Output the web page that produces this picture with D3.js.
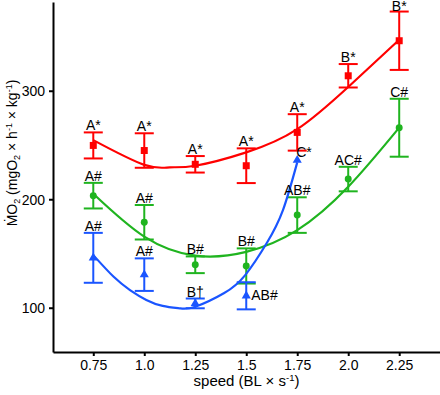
<!DOCTYPE html>
<html><head><meta charset="utf-8">
<script src="https://cdn.jsdelivr.net/npm/d3@7"></script>
<style>body{margin:0;background:#fff} svg{display:block} text{font-family:"Liberation Sans",Arial,Helvetica,sans-serif}</style>
</head><body><svg id="c" width="440" height="395"></svg>
<script>
// ---- data ----
const speeds = [0.75, 1.0, 1.25, 1.5, 1.75, 2.0, 2.25];
const xTicks = [0.75, 1.0, 1.25, 1.5, 1.75, 2.0, 2.25];
const xTickLabels = ["0.75", "1.0", "1.25", "1.5", "1.75", "2.0", "2.25"];
const yTicks = [100, 200, 300];

const redMean = [249.6, 244.9, 232.2, 230.9, 261.6, 313.8, 346.1];
const redErr = [12, 15.9, 7.6, 16, 16.8, 10.8, 26.9];
const redLabels = ["A*", "A*", "A*", "A*", "A*", "B*", "B*"];

const greenMean = [203.3, 178.8, 139.6, 138.5, 185.4, 218.6, 265.9];
const greenErr = [11.8, 15.9, 7.7, 16.2, 16.4, 11.3, 26.7];
const greenLabels = ["A#", "A#", "B#", "B#", "AB#", "AC#", "C#"];

const blueSpeeds = [0.75, 1.0, 1.25, 1.5, 1.75];
const blueMean = [146, 130.5, 104, 111, 236];
const blueErr = [23, 15, 4.5, 12.5, null];
const blueLabels = ["A#", "A#", "B\u2020", "AB#", "C*"];

// fitted curves
const redFitX = [0.75, 1.0, 1.125, 1.25, 1.5, 1.75, 2.0, 2.25];
const redFitY = [254.5, 231.7, 229.4, 230.9, 243.2, 264.6, 303.5, 347];
const greenFitX = [0.75, 1.0, 1.25, 1.5, 1.75, 2.0, 2.25];
const greenFitY = [205, 165.5, 148, 151.5, 171.5, 211.5, 266];
const blueFitX = [0.75, 0.85, 0.93, 1.01, 1.09, 1.175, 1.25, 1.39, 1.495, 1.6, 1.68, 1.75];
const blueFitY = [148.5, 128.5, 116.3, 107.2, 101.7, 99.4, 100.9, 113.3, 130.1, 159.4, 190, 234];

// ---- layout ----
const svg = d3.select("#c");
const x = d3.scaleLinear().domain([0.5525, 2.45]).range([53, 440]);
const y = d3.scaleLinear().domain([59.2, 381.8]).range([352, 2]);
const FONT = 14;

const series = [
  {key: "red", color: "#ff0000", xs: speeds, mean: redMean, err: redErr, labels: redLabels, fx: redFitX, fy: redFitY, shape: d3.symbolSquare, size: 49},
  {key: "green", color: "#1fb41f", xs: speeds, mean: greenMean, err: greenErr, labels: greenLabels, fx: greenFitX, fy: greenFitY, shape: d3.symbolCircle, size: 38},
  {key: "blue", color: "#1a55ff", xs: blueSpeeds, mean: blueMean, err: blueErr, labels: blueLabels, fx: blueFitX, fy: blueFitY, shape: d3.symbolTriangle, size: 36}
];
const labelPlacement = {"blue-3": "right", "blue-4": "rightUp"};

const line = d3.line().x(d => x(d[0])).y(d => y(d[1])).curve(d3.curveNatural);

series.forEach(s => {
  const g = svg.append("g");
  const rows = s.xs.map((v, i) => ({s: v, m: s.mean[i], e: s.err[i], l: s.labels[i], i}));
  const eb = rows.filter(r => r.e != null);
  g.selectAll(".v").data(eb).join("line")
    .attr("x1", d => x(d.s)).attr("x2", d => x(d.s))
    .attr("y1", d => y(d.m + d.e)).attr("y2", d => y(d.m - d.e))
    .attr("stroke", s.color).attr("stroke-width", 2);
  [1, -1].forEach(sg => {
    g.selectAll(".c" + sg).data(eb).join("line")
      .attr("x1", d => x(d.s) - 9.5).attr("x2", d => x(d.s) + 9.5)
      .attr("y1", d => y(d.m + sg * d.e)).attr("y2", d => y(d.m + sg * d.e))
      .attr("stroke", s.color).attr("stroke-width", 2);
  });
  g.selectAll(".p").data(rows).join("path")
    .attr("d", d3.symbol().type(s.shape).size(s.size))
    .attr("transform", d => `translate(${x(d.s)},${y(d.m)})`)
    .attr("fill", s.color);
  g.append("path").datum(s.fx.map((v, i) => [v, s.fy[i]]))
    .attr("d", line).attr("fill", "none").attr("stroke", s.color).attr("stroke-width", 2.2);
  s.rows = rows;
});

// labels
series.forEach(s => {
  svg.append("g").selectAll("text").data(s.rows).join("text")
    .attr("font-size", FONT).attr("fill", "#000")
    .each(function(d) {
      const p = labelPlacement[s.key + "-" + d.i];
      const t = d3.select(this);
      if (p === "right") {
        t.attr("x", x(d.s) + 5).attr("y", y(d.m) + 4).attr("text-anchor", "start");
      } else if (p === "rightUp") {
        t.attr("x", x(d.s) - 1).attr("y", y(d.m) - 3).attr("text-anchor", "start");
      } else {
        t.attr("x", x(d.s)).attr("y", Math.max(11, y(d.m + (d.e || 0)) - 2)).attr("text-anchor", "middle");
      }
    })
    .text(d => d.l);
});

// axes
const ax = svg.append("g").attr("transform", "translate(0,352)")
  .call(d3.axisBottom(x).tickValues(xTicks).tickFormat((d, i) => xTickLabels[i]).tickSize(4).tickSizeOuter(0));
const ay = svg.append("g").attr("transform", "translate(53,0)")
  .call(d3.axisLeft(y).tickValues(yTicks).tickSize(4).tickSizeOuter(0));
[ax, ay].forEach(a => {
  a.select(".domain").attr("stroke", "#000").attr("stroke-width", 2);
  a.selectAll(".tick line").attr("stroke", "#000").attr("stroke-width", 2);
  a.selectAll(".tick text").attr("font-size", FONT).attr("fill", "#000")
    .attr("font-family", '"Liberation Sans",Arial,sans-serif');
});
ax.selectAll(".tick text").attr("dy", null).attr("y", 18);
ay.selectAll(".tick text").attr("x", -8).attr("dy", "0.36em");

// axis titles
const xt = svg.append("text").attr("x", 246.5).attr("y", 386).attr("text-anchor", "middle").attr("font-size", 15);
xt.append("tspan").text("speed (BL \u00d7 s");
xt.append("tspan").attr("font-size", 9.5).attr("dy", -5).text("-1");
xt.append("tspan").attr("dy", 5).text(")");

const yt = svg.append("text").attr("transform", "translate(17,153) rotate(-90)").attr("text-anchor", "middle").attr("font-size", FONT);
yt.append("tspan").text("\u1E40O");
yt.append("tspan").attr("font-size", 9).attr("dy", 3).text("2");
yt.append("tspan").attr("dy", -3).text(" (mgO");
yt.append("tspan").attr("font-size", 9).attr("dy", 3).text("2");
yt.append("tspan").attr("dy", -3).text(" \u00d7 h");
yt.append("tspan").attr("font-size", 9).attr("dy", -5).text("-1");
yt.append("tspan").attr("dy", 5).text(" \u00d7 kg");
yt.append("tspan").attr("font-size", 9).attr("dy", -5).text("-1");
yt.append("tspan").attr("dy", 5).text(")");
</script></body></html>
